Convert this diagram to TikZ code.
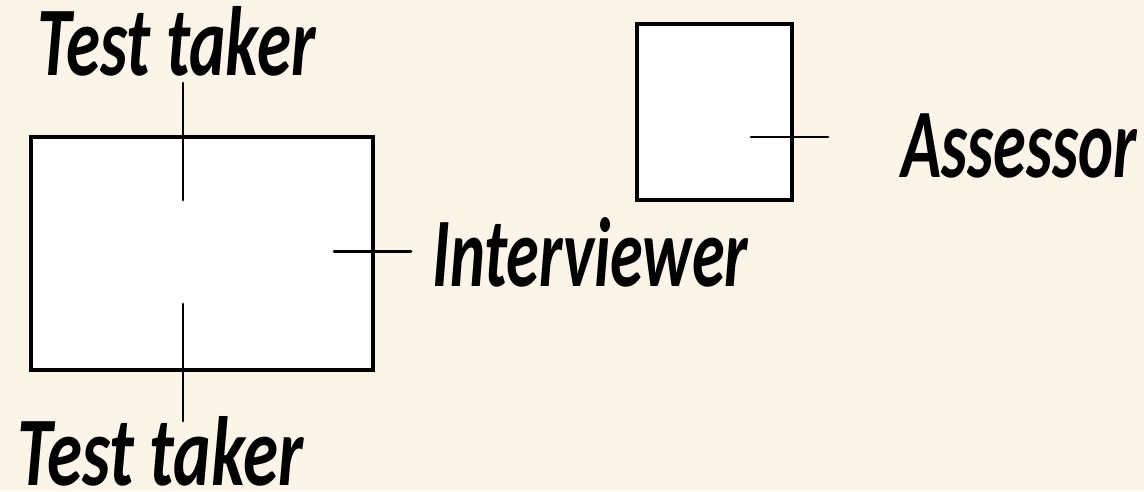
\documentclass[tikz,border=0pt]{standalone}
\usepackage{fontspec}
\usepackage{graphicx}
\setmainfont{Carlito}
\definecolor{paper}{HTML}{FBF4E9}
\newcommand{\rolelabel}[2]{\resizebox{#1}{\height}{\fontsize{56}{64}\selectfont\bfseries\itshape #2}}
\begin{document}
\begin{tikzpicture}[x=0.02cm, y=-0.02cm,
    room/.style={draw=black, fill=white, line width=2pt, inner sep=0pt},
    role/.style={anchor=base west, inner sep=0pt, text=black},
    tick/.style={line width=1.7pt, line cap=round}]

  % Paper and frame of the picture
  \fill[paper] (0,0) rectangle (1144,491);
  \useasboundingbox (0,0) rectangle (1144,491);

  % Draw the two rooms
  \node[room, minimum width=6.84cm, minimum height=4.66cm] (stage) at (202,253.5) {};
  \node[room, minimum width=3.1cm, minimum height=3.52cm] (booth) at (714.5,112) {};

  % Draw the labels
  \node[role] (taker top) at (37,75) {\rolelabel{5.56cm}{Test taker}};
  \node[role] (taker bottom) at (17,485) {\rolelabel{5.72cm}{Test taker}};
  \node[role] (interviewer) at (432,286) {\rolelabel{6.32cm}{Interviewer}};
  \node[role] (assessor) at (901,177) {\rolelabel{4.72cm}{Assessor}};

  % Define the ends of the ticks
  \coordinate (top in) at (183,200);
  \coordinate (top out) at (183,83);
  \coordinate (bottom in) at (183,304);
  \coordinate (bottom out) at (183,421);
  \coordinate (interviewer in) at (334,251);
  \coordinate (interviewer out) at (411,251);
  \coordinate (assessor in) at (751,137);
  \coordinate (assessor out) at (828,137);

  % Draw the ticks
  \draw[tick] (top out) -- (top in);
  \draw[tick] (bottom in) -- (bottom out);
  \draw[tick] (interviewer in) -- (interviewer out);
  \draw[tick] (assessor in) -- (assessor out);

\end{tikzpicture}
\end{document}
